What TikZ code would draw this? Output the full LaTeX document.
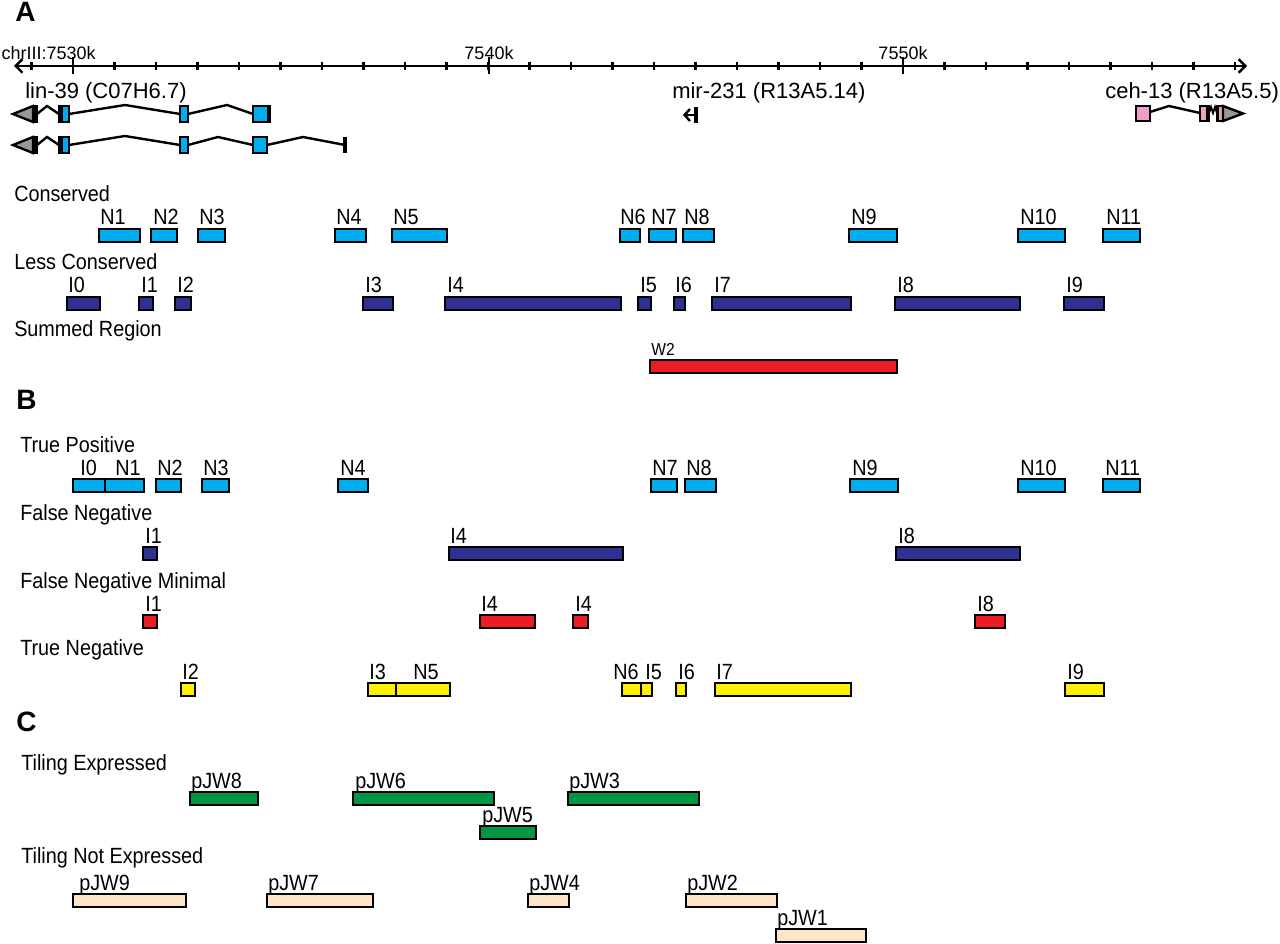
\documentclass[tikz,border=0pt]{standalone}
\usepackage{fontspec}
\setmainfont{Liberation Sans}
\newfontfamily\narrowsf[FakeStretch=0.9]{Liberation Sans}
\usetikzlibrary{arrows.meta}

\definecolor{consblue}{RGB}{0,174,239}
\definecolor{lessblue}{RGB}{46,49,146}
\definecolor{sumred}{RGB}{237,28,36}
\definecolor{tnyellow}{RGB}{255,242,0}
\definecolor{tilegreen}{RGB}{0,150,68}
\definecolor{tilepeach}{RGB}{253,230,200}
\definecolor{exonpink}{RGB}{240,160,200}
\definecolor{utrgray}{RGB}{150,152,158}

\begin{document}
\begin{tikzpicture}[x=0.75pt,y=-0.75pt,
  bar/.style={draw=black,line width=1.9pt},
  gene/.style={draw=black,line width=1.8pt},
  lab/.style={anchor=base west,inner sep=0pt,font=\narrowsf\fontsize{16.5}{16.5}\selectfont},
  cat/.style={anchor=base west,inner sep=0pt,font=\narrowsf\fontsize{16.5}{16.5}\selectfont},
  panel/.style={anchor=base west,inner sep=0pt,font=\fontsize{21}{21}\selectfont\bfseries},
  ticklab/.style={anchor=base,inner sep=0pt,font=\fontsize{13.5}{13.5}\selectfont},
  genelab/.style={anchor=base west,inner sep=0pt,font=\fontsize{16.5}{16.5}\selectfont}]
  \useasboundingbox (0,0) rectangle (1280,944);

  % ---------------- A ----------------
  \node[panel] (pa) at (15,22) {A};

  % Draw the number line
  \draw[line width=1.8pt,{Straight Barb[length=5pt,width=10pt]}-{Straight Barb[length=5pt,width=10pt]}] (14,66) -- (1247,66);

  % Tick marks and labels
  \foreach \k in {-1,...,28}
    \draw[line width=1.8pt] (73+41.5*\k,62) -- (73+41.5*\k,70);
  \foreach \x in {73,489,903}
    \draw[line width=1.8pt] (\x,57) -- (\x,74);
  \node[ticklab,anchor=base east] (t7530) at (96,60) {chrIII:7530k};
  \node[ticklab] (t7540) at (489,60) {7540k};
  \node[ticklab] (t7550) at (903,60) {7550k};

  % lin-39
  \node[genelab] (lin39) at (25,99) {lin-39 (C07H6.7)};
  \foreach \y in {114,145} {
    \filldraw[gene,fill=utrgray] (13,\y) -- (33,\y-8) -- (33,\y+8) -- cycle;
    \filldraw[gene,fill=black] (33,\y-8) rectangle (37,\y+8);
    \draw[gene] (37,\y) -- (47,\y-8) -- (59,\y);
    \filldraw[gene,fill=consblue] (59,\y-8) rectangle (69,\y+8);
    \fill[black] (59,\y-8) rectangle (63,\y+8);
    \draw[gene] (69,\y) -- (125,\y-9) -- (180,\y);
    \filldraw[gene,fill=consblue] (180,\y-8) rectangle (188,\y+8);
  }
  \draw[gene] (188,114) -- (227,105) -- (253,114);
  \filldraw[gene,fill=consblue] (253,106) rectangle (270,122);
  \fill[black] (267,106) rectangle (270,122);
  \draw[gene] (188,145) -- (218,137) -- (253,145);
  \filldraw[gene,fill=consblue] (253,137) rectangle (267,153);
  \draw[gene] (267,145) -- (303,137) -- (345,145);
  \draw[line width=2.6pt] (345,137) -- (345,153);

  % mir-231
  \node[genelab] (mir231) at (672,99) {mir-231 (R13A5.14)};
  \draw[line width=3.2pt] (696,107) -- (696,123);
  \draw[line width=1.8pt,-{Straight Barb[length=4pt,width=9pt]}] (695,115) -- (683,115);

  % ceh-13
  \node[genelab] (ceh13) at (1105,99) {ceh-13 (R13A5.5)};
  \filldraw[gene,fill=exonpink] (1136,106) rectangle (1150,121);
  \draw[gene] (1150,112) -- (1169,106) -- (1200,113);
  \filldraw[gene,fill=exonpink] (1200,106) rectangle (1209,121);
  \fill[black] (1206,106) rectangle (1209,121);
  \draw[gene,line width=1.4pt] (1209,113) -- (1211,107) -- (1213,113) -- (1215,107) -- (1217,113);
  \filldraw[gene,fill=exonpink] (1217,106) rectangle (1223,121);
  \fill[black] (1217,106) rectangle (1219,121);
  \filldraw[gene,fill=utrgray] (1223,106) -- (1243,113.5) -- (1223,121) -- cycle;

  % Conserved
  \node[cat] (conserved) at (14,202) {Conserved};
  \foreach \a/\b/\lx/\nm [count=\i] in {99/140/100/N1,151/177/153/N2,198/225/199/N3,
      335/366/336/N4,392/447/393/N5,620/640/620/N6,649/676/651/N7,683/714/684/N8,
      849/897/851/N9,1018/1065/1020/N10,1103/1140/1106/N11} {
    \filldraw[bar,fill=consblue] (\a,229) rectangle (\b,242);
    \node[lab] (cn\i) at (\lx,225) {\nm};
  }

  % Less Conserved
  \node[cat] (lessconserved) at (14,270) {Less Conserved};
  \foreach \a/\b/\lx/\nm [count=\i] in {67/100/68/I0,139/153/141/I1,175/191/177/I2,
      363/393/365/I3,445/621/447/I4,638/651/640/I5,674/685/675/I6,712/851/714/I7,
      895/1020/897/I8,1064/1104/1066/I9} {
    \filldraw[bar,fill=lessblue] (\a,297) rectangle (\b,310);
    \node[lab] (lc\i) at (\lx,293) {\nm};
  }

  % Summed Region
  \node[cat] (summed) at (14,337) {Summed Region};
  \filldraw[bar,fill=sumred] (650,360) rectangle (897,373);
  \node[lab,font=\narrowsf\fontsize{13}{13}\selectfont] (w2) at (651,356) {W2};

  % ---------------- B ----------------
  \node[panel] (pb) at (16,409) {B};

  % True Positive
  \node[cat] (truepos) at (20,452) {True Positive};
  \foreach \a/\b/\lx/\nm [count=\i] in {73/105/80/I0,105/144/115/N1,156/181/157/N2,
      202/229/203/N3,338/368/340/N4,651/677/652/N7,685/716/686/N8,850/898/852/N9,
      1018/1065/1020/N10,1103/1140/1105/N11} {
    \filldraw[bar,fill=consblue] (\a,479) rectangle (\b,492);
    \node[lab] (tp\i) at (\lx,475) {\nm};
  }

  % False Negative
  \node[cat] (falseneg) at (20,520) {False Negative};
  \foreach \a/\b/\lx/\nm [count=\i] in {143/157/145/I1,449/623/450/I4,896/1020/898/I8} {
    \filldraw[bar,fill=lessblue] (\a,547) rectangle (\b,560);
    \node[lab] (fn\i) at (\lx,543) {\nm};
  }

  % False Negative Minimal
  \node[cat] (falsenegmin) at (20,588) {False Negative Minimal};
  \foreach \a/\b/\lx/\nm [count=\i] in {143/157/145/I1,480/535/481/I4,573/588/575/I4,975/1005/977/I8} {
    \filldraw[bar,fill=sumred] (\a,615) rectangle (\b,628);
    \node[lab] (fm\i) at (\lx,611) {\nm};
  }

  % True Negative
  \node[cat] (trueneg) at (20,655) {True Negative};
  \foreach \a/\b/\lx/\nm [count=\i] in {181/195/182/I2,368/396/369/I3,396/450/413/N5,
      622/641/613/N6,641/652/645/I5,676/686/678/I6,715/851/716/I7,1065/1104/1067/I9} {
    \filldraw[bar,fill=tnyellow] (\a,683) rectangle (\b,696);
    \node[lab] (tn\i) at (\lx,679) {\nm};
  }

  % ---------------- C ----------------
  \node[panel] (pc) at (16,731) {C};

  % Tiling Expressed
  \node[cat] (tilex) at (21,770) {Tiling Expressed};
  \foreach \a/\b/\lx/\y/\nm [count=\i] in {190/258/191/792/pJW8,353/494/355/792/pJW6,
      568/699/569/792/pJW3,480/536/482/826/pJW5} {
    \filldraw[bar,fill=tilegreen] (\a,\y) rectangle (\b,\y+13);
    \node[lab] (te\i) at (\lx,\y-4) {\nm};
  }

  % Tiling Not Expressed
  \node[cat] (tilenot) at (21,863) {Tiling Not Expressed};
  \foreach \a/\b/\lx/\y/\nm [count=\i] in {73/186/79/894/pJW9,267/373/268/894/pJW7,
      528/569/529/894/pJW4,686/777/687/894/pJW2,776/866/777/929/pJW1} {
    \filldraw[bar,fill=tilepeach] (\a,\y) rectangle (\b,\y+13);
    \node[lab] (tx\i) at (\lx,\y-4) {\nm};
  }
\end{tikzpicture}
\end{document}
